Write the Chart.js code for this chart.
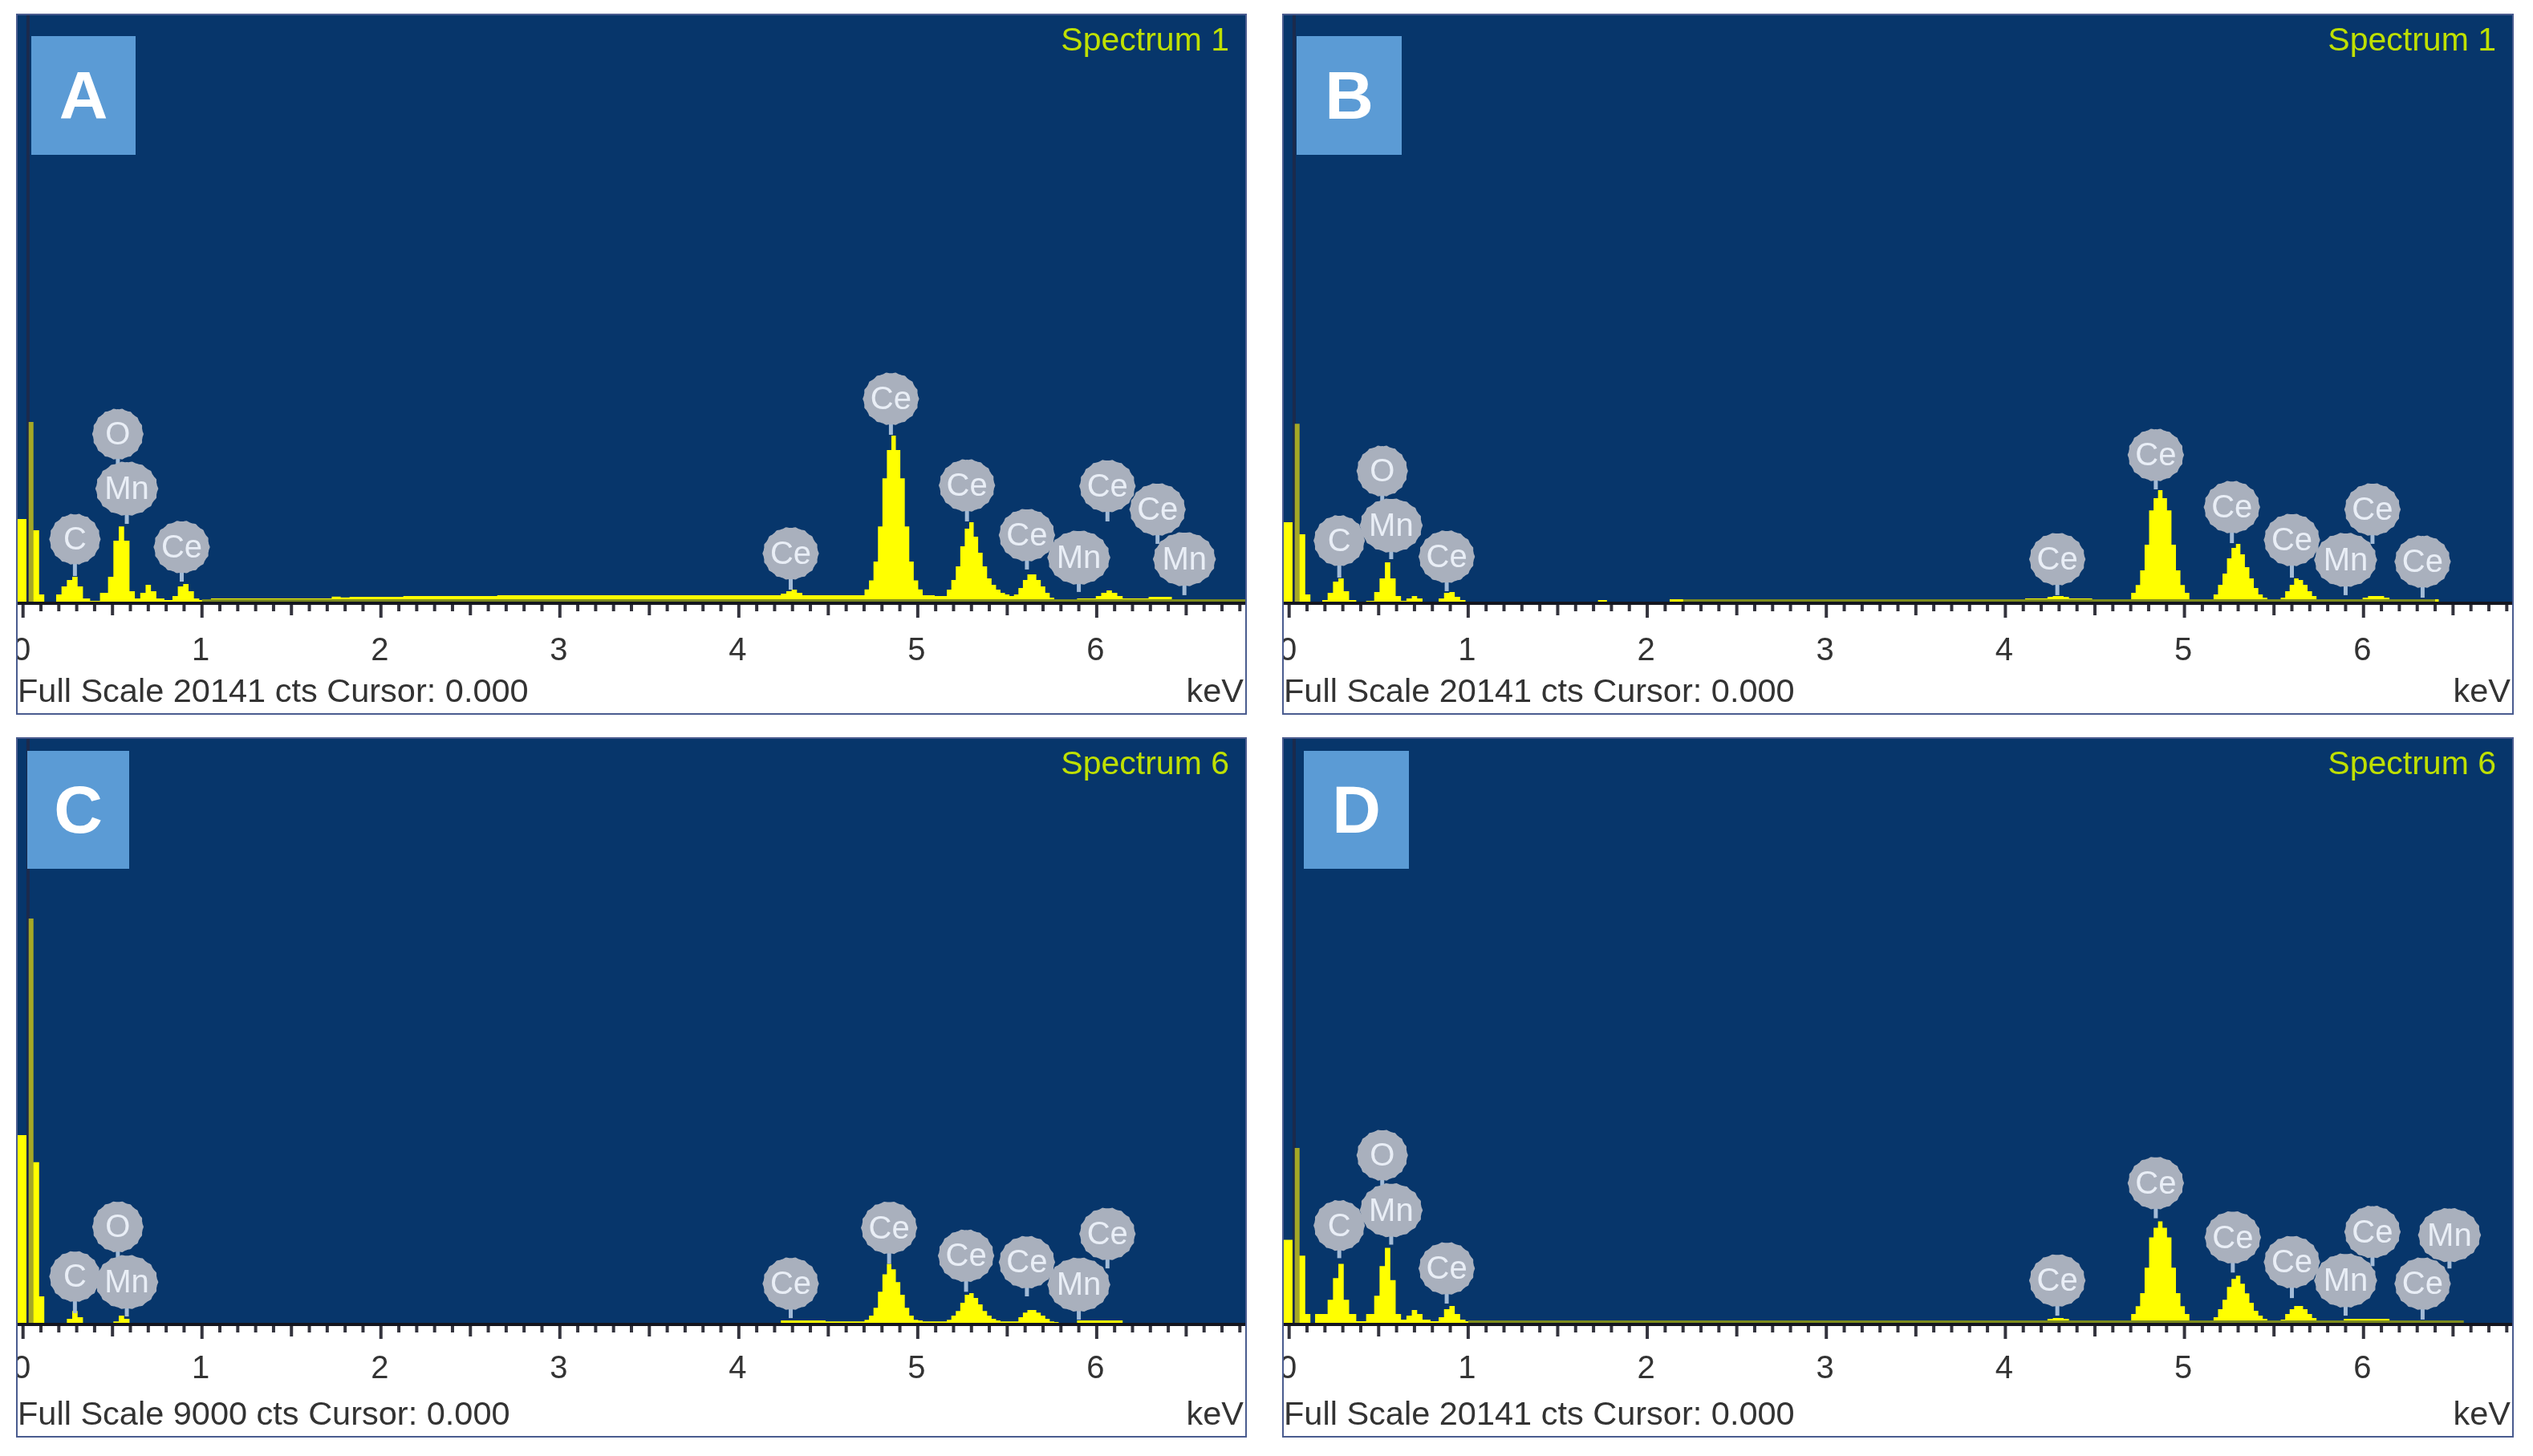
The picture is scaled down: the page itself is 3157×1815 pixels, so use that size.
<!DOCTYPE html>
<html>
<head>
<meta charset="utf-8">
<title>EDS spectra</title>
<script src="https://cdn.jsdelivr.net/npm/chart.js@4"></script>
<style>
    html, body { margin: 0; padding: 0; background: #fff; }
    body { position: relative; width: 3157px; height: 1815px; overflow: hidden; font-family: "Liberation Sans", Arial, sans-serif; }
    .panel { position: absolute; box-sizing: border-box; border: 2px solid #4a5c8f; background: #fff; filter: blur(0.7px); }
    .panel canvas { position: absolute; left: 0; top: 0; }
    .footer, .unit { position: absolute; font-size: 41.5px; line-height: 44px; color: #333; white-space: nowrap; }
    .spectrum { position: absolute; font-size: 41px; line-height: 44px; color: #bfe000; white-space: nowrap; }
    .letter { position: absolute; background: #5b9bd5; color: #fff; font-weight: bold; font-size: 84px; text-align: center; }
</style>
</head>
<body>
<script>
// energy bins, shared by all four spectra
const keV = [
    0.12, 0.17, 0.2, 0.23, 0.26, 0.29, 0.32, 0.35, 0.4, 0.46, 0.49, 0.52, 0.55, 0.58, 0.61, 0.64, 0.67, 0.7, 0.73, 0.76, 0.82, 0.85, 0.88, 0.91, 0.94, 0.97, 1.0,
    1.1, 1.7, 1.75, 1.8, 1.85, 1.95, 2.3, 3, 4,
    4.22, 4.25, 4.28, 4.31, 4.34, 4.37,
    4.6, 4.69, 4.715, 4.74, 4.765, 4.79, 4.815, 4.84, 4.865, 4.89, 4.915, 4.94, 4.965, 4.99, 5.015, 5.04,
    5.15, 5.175, 5.2, 5.225, 5.25, 5.275, 5.3, 5.325, 5.35, 5.375, 5.4, 5.425, 5.45, 5.475, 5.5, 5.525,
    5.55, 5.575, 5.6, 5.625, 5.65, 5.675, 5.7, 5.725, 5.75, 5.775,
    5.8, 5.98, 6.01, 6.04, 6.07, 6.1, 6.13, 6.16, 6.28, 6.3, 6.41, 6.43, 6.56, 6.83
]

const countsA = [
    0, 30, 275, 550, 770, 880, 550, 140, 55, 330, 880, 2120, 2610, 2120, 385, 140, 330, 605, 385, 140, 85, 220, 550, 630, 385, 140, 85,
    140, 140, 200, 170, 190, 190, 220, 250, 250,
    250, 300, 385, 440, 330, 250,
    250, 250, 450, 760, 1400, 2610, 4260, 5225, 5720, 5225, 4260, 2610, 1400, 760, 450, 250,
    220, 440, 770, 1240, 1925, 2530, 2750, 2255, 1705, 1240, 825, 605, 440, 330, 275, 220,
    275, 495, 770, 960, 960, 770, 550, 330, 165, 110,
    110, 140, 220, 330, 410, 330, 220, 140, 140, 190, 190, 110, 110, 110
]
const countsB = [
    0, 0, 85, 330, 715, 825, 385, 85, 0, 55, 360, 825, 1375, 825, 220, 55, 140, 220, 140, 30, 30, 140, 330, 360, 190, 85, 30,
    30, 30, 85, 30, 30, 30, 110, 110, 110,
    140, 190, 220, 220, 190, 140,
    110, 110, 330, 600, 1100, 1980, 3160, 3575, 3850, 3575, 3160, 1980, 1100, 600, 330, 110,
    110, 275, 605, 990, 1510, 1870, 2010, 1650, 1210, 825, 495, 275, 165, 110, 110, 110,
    165, 385, 605, 825, 770, 605, 385, 220, 110, 55,
    55, 110, 165, 220, 220, 220, 165, 110, 30, 110, 110, 0, 0, 0
]
const countsC = [
    0, 0, 0, 0, 75, 195, 100, 0, 0, 0, 0, 35, 125, 75, 0, 0, 0, 0, 0, 0, 0, 0, 0, 0, 0, 0, 0,
    0, 0, 0, 0, 0, 0, 0, 0, 0,
    0, 50, 50, 50, 50, 50,
    35, 35, 60, 125, 245, 490, 760, 920, 835, 640, 445, 245, 125, 60, 50, 35,
    35, 60, 125, 195, 320, 445, 470, 395, 295, 195, 125, 75, 50, 35, 35, 35,
    35, 100, 170, 210, 210, 170, 125, 75, 35, 25,
    0, 50, 50, 50, 50, 50, 50, 0, 0, 0, 0, 0, 0, 0
]
const countsD = [
    0, 330, 330, 825, 1570, 2060, 825, 330, 85, 330, 960, 1980, 2610, 1500, 330, 140, 275, 470, 330, 140, 85, 220, 495, 605, 330, 140, 85,
    85, 85, 85, 85, 85, 85, 85, 85, 85,
    110, 165, 190, 190, 165, 110,
    85, 110, 330, 600, 1050, 1925, 2970, 3300, 3520, 3300, 2970, 1925, 1050, 600, 330, 110,
    85, 220, 495, 825, 1265, 1540, 1650, 1375, 1045, 715, 440, 275, 165, 110, 85, 85,
    140, 330, 495, 605, 605, 495, 330, 190, 110, 85,
    85, 165, 165, 165, 165, 165, 165, 85, 85, 85, 85, 85, 0, 0
]

// the noise bars next to zero
const burstKeV = [-0.03, 0.02, 0.05, 0.09, 0.12]
const burstA = [2860, 0, 2475, 275, 0]
const burstB = [2750, 0, 2340, 275, 0]
const burstC = [2900, 0, 2485, 420, 0]
const burstD = [2890, 0, 2340, 330, 0]

const spikeKeV = 0.045
const cursorKeV = 0.028
const spikeA = 6190
const spikeB = 6130
const spikeC = 6235
const spikeD = 6050

// thin olive line along the background counts
const bandCounts = 70
const bandKeVA = [1.0, 6.83]
const bandKeVB = [2.2, 6.4]
const bandKeVC = []
const bandKeVD = [1.0, 6.56]

// element markers: label, energy, height of the marker, end of its stem
const peakLabelsA = ['C', 'O', 'Mn', 'Ce', 'Ce', 'Ce', 'Ce', 'Ce', 'Mn', 'Ce', 'Ce', 'Mn']
const peakKeVA = [0.29, 0.53, 0.58, 0.887, 4.29, 4.85, 5.275, 5.61, 5.9, 6.06, 6.34, 6.49]
const peakTopA = [2170, 5775, 3905, 1900, 1680, 6985, 4015, 2310, 1540, 3990, 3190, 1485]
const peakStemA = [905, 4700, 2695, 715, 440, 5750, 2780, 1130, 360, 2780, 2010, 250]

const peakLabelsB = ['C', 'O', 'Mn', 'Ce', 'Ce', 'Ce', 'Ce', 'Ce', 'Mn', 'Ce', 'Ce']
const peakKeVB = [0.28, 0.52, 0.57, 0.88, 4.29, 4.84, 5.265, 5.6, 5.9, 6.05, 6.33]
const peakTopB = [2120, 4510, 2640, 1570, 1485, 5060, 3270, 2145, 1460, 3190, 1400]
const peakStemB = [850, 3410, 1485, 385, 250, 3880, 2035, 850, 250, 2010, 165]

const peakLabelsC = ['C', 'O', 'Mn', 'Ce', 'Ce', 'Ce', 'Ce', 'Mn', 'Ce']
const peakKeVC = [0.29, 0.53, 0.58, 4.29, 4.84, 5.27, 5.61, 5.9, 6.06]
const peakTopC = [725, 1490, 640, 615, 1475, 1045, 945, 600, 1380]
const peakStemC = [160, 970, 110, 85, 920, 490, 420, 60, 850]

const peakLabelsD = ['C', 'O', 'Mn', 'Ce', 'Ce', 'Ce', 'Ce', 'Ce', 'Mn', 'Ce', 'Mn', 'Ce']
const peakKeVD = [0.28, 0.52, 0.57, 0.88, 4.29, 4.84, 5.27, 5.6, 5.9, 6.05, 6.48, 6.33]
const peakTopD = [3380, 5800, 3905, 1900, 1485, 4840, 2970, 2120, 1485, 3160, 3050, 1375]
const peakStemD = [2255, 4730, 2720, 690, 275, 3630, 1760, 880, 275, 1980, 1900, 140]

const keVMin = -0.03
const keVMax = 6.83

const markerSize = {C: [31, 31], O: [31, 31], Ce: [34, 32], Mn: [38, 33]}

function make_points(xs, ys)
{
    return xs.map((x, i) => ({x: x, y: ys[i]}))
}

function is_whole(value)
{
    return Math.abs(value - Math.round(value)) < 1e-6
}

const axisTicks = {
    id: 'axisTicks',
    afterDraw(chart)
    {
        const ctx = chart.ctx
        const area = chart.chartArea
        const x = chart.scales.x

        ctx.save()
        ctx.strokeStyle = '#33333d'
        ctx.lineWidth = 4
        x.ticks.forEach(tick => {
            const tenths = Math.round(tick.value * 10)
            let length = 11
            if(tenths % 10 === 0) length = 19
            else if(tenths % 5 === 0) length = 16
            const px = x.getPixelForValue(tick.value)
            ctx.beginPath()
            ctx.moveTo(px, area.bottom)
            ctx.lineTo(px, area.bottom + length)
            ctx.stroke()
        })
        ctx.strokeStyle = '#14161f'
        ctx.lineWidth = 4
        ctx.beginPath()
        ctx.moveTo(area.left, area.bottom + 1)
        ctx.lineTo(area.right, area.bottom + 1)
        ctx.stroke()
        ctx.restore()
    }
}

function marker_path(ctx, cx, cy, rx, ry)
{
    // the little gear outline of the markers
    const bumps = 18
    ctx.beginPath()
    for(let i = 0; i <= bumps * 6; i++)
    {
        const a = i / (bumps * 6) * Math.PI * 2
        const r = 1 + 0.035 * Math.max(0, Math.cos(a * bumps))
        const px = cx + Math.cos(a) * rx * r
        const py = cy + Math.sin(a) * ry * r
        if(i === 0) ctx.moveTo(px, py)
        else ctx.lineTo(px, py)
    }
    ctx.closePath()
}

const peakMarkers = {
    id: 'peakMarkers',
    afterDatasetsDraw(chart, args, opts)
    {
        const ctx = chart.ctx
        const x = chart.scales.x
        const y = chart.scales.y

        ctx.save()
        opts.labels.forEach((label, i) => {
            const px = x.getPixelForValue(opts.energies[i])
            const top = y.getPixelForValue(opts.tops[i])
            const stem = y.getPixelForValue(opts.stems[i])
            ctx.strokeStyle = '#a3bbd6'
            ctx.lineWidth = 5
            ctx.beginPath()
            ctx.moveTo(px, top)
            ctx.lineTo(px, stem)
            ctx.stroke()
        })
        opts.labels.forEach((label, i) => {
            const px = x.getPixelForValue(opts.energies[i])
            const top = y.getPixelForValue(opts.tops[i])
            const size = markerSize[label]
            marker_path(ctx, px, top, size[0], size[1])
            ctx.fillStyle = '#a9b0bd'
            ctx.fill()
            ctx.fillStyle = '#e9eef6'
            ctx.font = '40px "Liberation Sans", Arial, sans-serif'
            ctx.textAlign = 'center'
            ctx.textBaseline = 'middle'
            ctx.fillText(label, px, top + 2)
        })
        ctx.restore()
    }
}

function add_panel(p)
{
    const holder = document.createElement('div')
    holder.className = 'panel'
    holder.style.left = p.left + 'px'
    holder.style.top = p.top + 'px'
    holder.style.width = p.width + 'px'
    holder.style.height = p.height + 'px'
    document.body.appendChild(holder)

    const canvas = document.createElement('canvas')
    canvas.width = p.width - 4
    canvas.height = p.height - 4
    canvas.style.width = (p.width - 4) + 'px'
    canvas.style.height = (p.height - 4) + 'px'
    holder.appendChild(canvas)

    new Chart(canvas.getContext('2d'), {
        type: 'line',
        data: {
            datasets: [
                {
                    label: 'band',
                    data: p.band.length ? make_points(p.band, [bandCounts, bandCounts]) : [],
                    borderColor: '#7d8c1e',
                    borderWidth: 3,
                    pointRadius: 0,
                    fill: false,
                    order: 0
                },
                {
                    label: 'spike',
                    data: make_points([spikeKeV, spikeKeV], [0, p.spike]),
                    borderColor: '#a5a826',
                    borderWidth: 6,
                    pointRadius: 0,
                    fill: false,
                    order: 1
                },
                {
                    label: 'cursor',
                    data: make_points([cursorKeV, cursorKeV], [0, p.fullScale]),
                    borderColor: '#1b2a4c',
                    borderWidth: 4,
                    pointRadius: 0,
                    fill: false,
                    order: 2
                },
                {
                    label: 'noise',
                    data: make_points(burstKeV, p.burst),
                    stepped: 'before',
                    borderWidth: 0,
                    pointRadius: 0,
                    backgroundColor: '#ffff00',
                    fill: 'origin',
                    order: 3
                },
                {
                    label: p.name,
                    data: make_points(keV, p.counts),
                    stepped: 'middle',
                    borderWidth: 0,
                    pointRadius: 0,
                    backgroundColor: '#ffff00',
                    fill: 'origin',
                    order: 4
                }
            ]
        },
        options: {
            responsive: false,
            animation: false,
            devicePixelRatio: 1,
            layout: {padding: 0},
            plugins: {
                legend: {display: false},
                tooltip: {enabled: false},
                title: {display: false},
                peakMarkers: {labels: p.labels, energies: p.energies, tops: p.tops, stems: p.stems}
            },
            scales: {
                x: {
                    type: 'linear',
                    min: keVMin,
                    max: keVMax,
                    grid: {display: false, drawTicks: false},
                    border: {display: false},
                    afterFit(scale)
                    {
                        scale.height = p.axisHeight
                        scale.paddingLeft = 0
                        scale.paddingRight = 0
                    },
                    ticks: {
                        stepSize: 0.1,
                        includeBounds: false,
                        autoSkip: false,
                        maxRotation: 0,
                        padding: p.tickPadding,
                        labelOffset: -1.5,
                        color: '#333',
                        font: {family: '"Liberation Sans", Arial, sans-serif', size: 40},
                        callback: value => is_whole(value) ? String(Math.round(value)) : ''
                    }
                },
                y: {
                    display: false,
                    min: 0,
                    max: p.fullScale
                }
            }
        },
        plugins: [axisTicks, peakMarkers]
    })

    // plot background sits behind the canvas, so the white part stays white
    const plot = document.createElement('div')
    plot.style.cssText = 'position:absolute;left:0;top:0;right:0;background:#07366b;height:' + (p.height - 4 - p.axisHeight) + 'px'
    holder.insertBefore(plot, canvas)

    const footer = document.createElement('div')
    footer.className = 'footer'
    footer.style.left = '0px'
    footer.style.top = (p.height - 54) + 'px'
    footer.textContent = 'Full Scale ' + p.fullScale + ' cts Cursor: 0.000'
    holder.appendChild(footer)

    const unit = document.createElement('div')
    unit.className = 'unit'
    unit.style.right = '2px'
    unit.style.top = (p.height - 54) + 'px'
    unit.textContent = 'keV'
    holder.appendChild(unit)

    const spectrum = document.createElement('div')
    spectrum.className = 'spectrum'
    spectrum.style.right = '20px'
    spectrum.style.top = '8px'
    spectrum.textContent = p.name
    holder.appendChild(spectrum)

    const letter = document.createElement('div')
    letter.className = 'letter'
    letter.style.left = p.boxLeft + 'px'
    letter.style.top = p.boxTop + 'px'
    letter.style.width = p.boxWidth + 'px'
    letter.style.height = p.boxHeight + 'px'
    letter.style.lineHeight = p.boxHeight + 'px'
    letter.textContent = p.letter
    holder.appendChild(letter)
}

function init()
{
    add_panel({
        letter: 'A', name: 'Spectrum 1', fullScale: 20141,
        left: 20, top: 17, width: 1534, height: 874, axisHeight: 138, tickPadding: 37,
        boxLeft: 17, boxTop: 26, boxWidth: 130, boxHeight: 148,
        counts: countsA, burst: burstA, spike: spikeA, band: bandKeVA,
        labels: peakLabelsA, energies: peakKeVA, tops: peakTopA, stems: peakStemA
    })
    add_panel({
        letter: 'B', name: 'Spectrum 1', fullScale: 20141,
        left: 1598, top: 17, width: 1535, height: 874, axisHeight: 138, tickPadding: 37,
        boxLeft: 16, boxTop: 26, boxWidth: 131, boxHeight: 148,
        counts: countsB, burst: burstB, spike: spikeB, band: bandKeVB,
        labels: peakLabelsB, energies: peakKeVB, tops: peakTopB, stems: peakStemB
    })
    add_panel({
        letter: 'C', name: 'Spectrum 6', fullScale: 9000,
        left: 20, top: 919, width: 1534, height: 873, axisHeight: 140, tickPadding: 33,
        boxLeft: 12, boxTop: 15, boxWidth: 127, boxHeight: 147,
        counts: countsC, burst: burstC, spike: spikeC, band: bandKeVC,
        labels: peakLabelsC, energies: peakKeVC, tops: peakTopC, stems: peakStemC
    })
    add_panel({
        letter: 'D', name: 'Spectrum 6', fullScale: 20141,
        left: 1598, top: 919, width: 1535, height: 873, axisHeight: 140, tickPadding: 33,
        boxLeft: 25, boxTop: 15, boxWidth: 131, boxHeight: 147,
        counts: countsD, burst: burstD, spike: spikeD, band: bandKeVD,
        labels: peakLabelsD, energies: peakKeVD, tops: peakTopD, stems: peakStemD
    })
}

init()
</script>
</body>
</html>
